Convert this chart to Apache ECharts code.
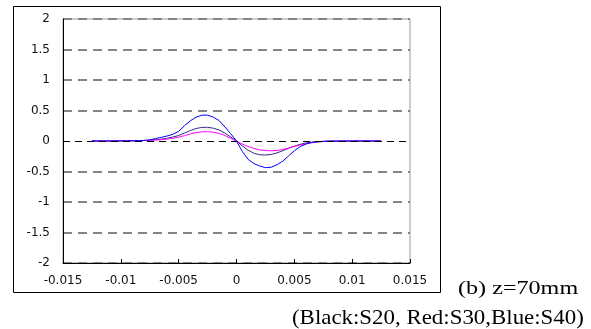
<!DOCTYPE html>
<html>
<head>
<meta charset="utf-8">
<script src="https://cdn.jsdelivr.net/npm/echarts@6/dist/echarts.min.js"></script>
<style>
  html, body { margin: 0; padding: 0; background: #fff; }
  #chart { width: 591px; height: 329px; }
</style>
</head>
<body>
<div id="chart"></div>
<script>
// positions across the sensor (m)
const xs = [
  -0.0125, -0.012, -0.0115, -0.011, -0.0105, -0.01, -0.0095, -0.009, -0.0085, -0.008,
  -0.0075, -0.007, -0.0065, -0.006, -0.0055, -0.005, -0.0045, -0.004, -0.0035, -0.003,
  -0.0025, -0.002, -0.0015, -0.001, -0.0005, 0, 0.0005, 0.001, 0.0015, 0.002,
  0.0025, 0.003, 0.0035, 0.004, 0.0045, 0.005, 0.0055, 0.006, 0.0065, 0.007,
  0.0075, 0.008, 0.0085, 0.009, 0.0095, 0.01, 0.0105, 0.011, 0.0115, 0.012, 0.0125
];

const s20 = [
  0, 0, 0, 0, 0, 0.001, 0.002, 0.003, 0.005, 0.008,
  0.012, 0.02, 0.03, 0.045, 0.065, 0.09, 0.13, 0.17, 0.205, 0.222,
  0.225, 0.21, 0.18, 0.13, 0.065, 0, -0.08, -0.15, -0.2, -0.225,
  -0.23, -0.22, -0.195, -0.16, -0.12, -0.085, -0.055, -0.032, -0.018, -0.01,
  -0.005, -0.002, -0.001, 0, 0, 0, 0, 0, 0, 0, 0
];

const s30 = [
  0, 0, 0, 0, 0.001, 0.001, 0.002, 0.003, 0.004, 0.006,
  0.01, 0.015, 0.022, 0.032, 0.045, 0.063, 0.088, 0.115, 0.138, 0.15,
  0.152, 0.145, 0.125, 0.09, 0.045, -0.003, -0.05, -0.09, -0.12, -0.145,
  -0.157, -0.16, -0.155, -0.14, -0.115, -0.09, -0.065, -0.045, -0.028, -0.016,
  -0.008, -0.004, -0.002, -0.001, 0, 0, 0, 0, 0, 0, 0
];

const s40 = [
  0, 0, 0, 0.001, 0.001, 0.002, 0.003, 0.004, 0.006, 0.01,
  0.018, 0.04, 0.06, 0.082, 0.11, 0.16, 0.25, 0.33, 0.39, 0.423,
  0.424, 0.39, 0.335, 0.23, 0.12, 0, -0.17, -0.3, -0.37, -0.41,
  -0.437, -0.43, -0.39, -0.33, -0.245, -0.16, -0.093, -0.05, -0.025, -0.013,
  -0.007, -0.004, -0.002, -0.001, 0, 0, 0, 0, 0, 0, 0
];

const xRange = [-0.015, 0.015, 0.005];
const yRange = [-2, 2, 0.5];

const caption1 = "(b) z=70mm";
const caption2 = "(Black:S20, Red:S30,Blue:S40)";

const pairs = (vals) => xs.map((x, i) => [x, vals[i]]);

// gray dashed grid; the zero line is drawn separately (thin black dashes)
const gridColors = ["#858585", "#858585", "#858585", "#858585", "transparent",
  "#858585", "#858585", "#858585", "#858585"];

const chart = echarts.init(document.getElementById("chart"), null, { renderer: "canvas" });

chart.setOption({
  animation: false,
  grid: {
    left: 63, right: 181, top: 19, bottom: 66,
    show: true, borderColor: "#9a9a9a", borderWidth: 1, backgroundColor: "transparent"
  },
  xAxis: {
    type: "value",
    min: xRange[0], max: xRange[1], interval: xRange[2],
    axisLine: { show: true, onZero: false, lineStyle: { color: "#000", width: 1 } },
    axisTick: { show: true, inside: true, length: 4, lineStyle: { color: "#000" } },
    axisLabel: { fontFamily: "DejaVu Sans", fontSize: 12, color: "#111", margin: 12 },
    splitLine: { show: false }
  },
  yAxis: {
    type: "value",
    min: yRange[0], max: yRange[1], interval: yRange[2],
    axisLine: { show: true, onZero: false, lineStyle: { color: "#000", width: 1 } },
    axisTick: { show: false },
    axisLabel: { fontFamily: "DejaVu Sans", fontSize: 12, color: "#111", margin: 13 },
    splitLine: { show: true, lineStyle: { color: gridColors, type: [9, 6], width: 2 } }
  },
  series: [
    {
      name: "S20", type: "line", data: pairs(s20), showSymbol: false,
      lineStyle: { color: "#2e2e80", width: 1 }, itemStyle: { color: "#2e2e80" },
      markLine: {
        silent: true, symbol: "none", label: { show: false },
        lineStyle: { color: "#000", type: [7, 5], width: 1 },
        data: [{ yAxis: 0 }]
      }
    },
    {
      name: "S30", type: "line", data: pairs(s30), showSymbol: false,
      lineStyle: { color: "#ff00ff", width: 1 }, itemStyle: { color: "#ff00ff" }
    },
    {
      name: "S40", type: "line", data: pairs(s40), showSymbol: false,
      lineStyle: { color: "#0000ff", width: 1 }, itemStyle: { color: "#0000ff" }
    }
  ],
  graphic: [
    {
      type: "rect", silent: true,
      shape: { x: 13.5, y: 6.5, width: 427, height: 286 },
      style: { fill: "none", stroke: "#000", lineWidth: 1 }
    },
    {
      type: "text", x: 458, y: 299, scaleX: 1.27, silent: true,
      style: {
        text: caption1, x: 0, y: 0, fill: "#000",
        font: "19px 'Liberation Serif'", textAlign: "left", textVerticalAlign: "bottom"
      }
    },
    {
      type: "text", x: 292, y: 329, scaleX: 1.09, silent: true,
      style: {
        text: caption2, x: 0, y: 0, fill: "#000",
        font: "21px 'Liberation Serif'", textAlign: "left", textVerticalAlign: "bottom"
      }
    }
  ]
});
</script>
</body>
</html>
